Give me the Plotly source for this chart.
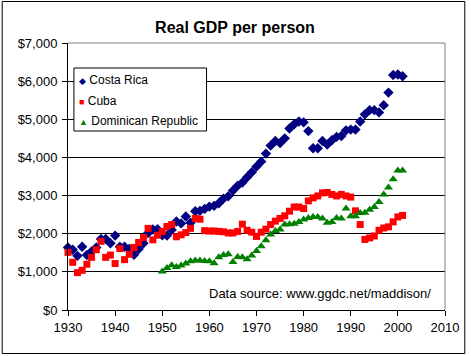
import plotly.graph_objects as go

years_cr = list(range(1930, 2002))
costa_rica = [1640, 1580, 1420, 1660, 1440, 1535, 1640, 1860, 1860, 1750,
              1950, 1660, 1660, 1600, 1450, 1600, 1750, 2020, 2110, 2120,
              1960, 1950, 2100, 2320, 2270, 2450, 2290, 2590, 2600, 2650,
              2710, 2730, 2800, 2920, 2980, 3130, 3260, 3340, 3480, 3610,
              3760, 3890, 4100, 4310, 4430, 4380, 4500, 4760, 4870, 4940,
              4920, 4690, 4240, 4240, 4430, 4340, 4450, 4540, 4560, 4710,
              4730, 4730, 4940, 5130, 5240, 5240, 5180, 5370, 5700, 6160,
              6175, 6130]

years_cu = list(range(1930, 2002))
cuba = [1510, 1250, 980, 1040, 1200, 1380, 1580, 1800, 1380, 1440,
        1220, 1610, 1320, 1460, 1640, 1770, 1900, 2140, 1840, 1960,
        2060, 2190, 2240, 1920, 1970, 2030, 2140, 2400, 2380, 2080,
        2070, 2070, 2060, 2050, 2020, 2020, 2060, 2250, 2090, 2040,
        1930, 2040, 2120, 2240, 2330, 2400, 2470, 2590, 2700, 2700,
        2660, 2860, 2940, 2990, 3070, 3080, 3030, 2990, 3030, 2990,
        2960, 2600, 2240, 1850, 1890, 1940, 2090, 2150, 2180, 2310,
        2440, 2480]

years_dr = list(range(1950, 2002))
dominican = [1010, 1100, 1170, 1130, 1165, 1220, 1280, 1300, 1300, 1285,
             1280, 1225, 1385, 1440, 1460, 1260, 1390, 1380, 1330, 1430,
             1550, 1670, 1830, 1980, 2070, 2110, 2240, 2250, 2260, 2310,
             2370, 2410, 2440, 2440, 2400, 2290, 2310, 2410, 2400, 2660,
             2460, 2460, 2540, 2550, 2630, 2700, 2830, 3030, 3210, 3430,
             3660, 3660]

x_ticks = [1930, 1940, 1950, 1960, 1970, 1980, 1990, 2000, 2010]
y_ticks = [0, 1000, 2000, 3000, 4000, 5000, 6000, 7000]

FONT = "Arial, 'Liberation Sans', sans-serif"

fig = go.Figure()
fig.add_trace(go.Scatter(x=years_cr, y=costa_rica, mode="markers", name="Costa Rica",
                         marker=dict(symbol="diamond", size=8, color="#000080"),
                         cliponaxis=False))
fig.add_trace(go.Scatter(x=years_cu, y=cuba, mode="markers", name="Cuba",
                         marker=dict(symbol="square", size=7, color="#FF0000"),
                         cliponaxis=False))
fig.add_trace(go.Scatter(x=years_dr, y=dominican, mode="markers", name="Dominican Republic",
                         marker=dict(symbol="triangle-up", size=8, color="#008000"),
                         cliponaxis=False))

# plot area: x 68..449, y 43..310 px
PW, PH = 381.0, 267.0
def px(xp):
    return (xp - 68) / PW
def py(yp):
    return (310 - yp) / PH

shapes = [
    # outer chart border
    dict(type="rect", xref="paper", yref="paper", x0=px(1.5), x1=px(469), y0=py(353.5), y1=py(1.5),
         line=dict(color="black", width=1), layer="below"),
    # gray plot-area border (top and right)
    dict(type="line", xref="paper", yref="paper", x0=0, x1=1, y0=1, y1=1,
         line=dict(color="#808080", width=1), layer="above"),
    dict(type="line", xref="paper", yref="paper", x0=1, x1=1, y0=0, y1=1,
         line=dict(color="#808080", width=1), layer="above"),
    # legend box
    dict(type="rect", xref="paper", yref="paper", x0=px(74), x1=px(208), y0=py(131), y1=py(68),
         line=dict(color="black", width=1), fillcolor="white", layer="above"),
]

legend_rows = [
    ("#000080", "\u25C6", "Costa Rica", 80),
    ("#FF0000", "\u25A0", "Cuba", 100.5),
    ("#008000", "\u25B2", "Dominican Republic", 121),
]
annotations = []
for color, sym, label, yy in legend_rows:
    annotations.append(dict(
        xref="paper", yref="paper", x=px(77), y=py(yy), xanchor="left", yanchor="middle",
        showarrow=False,
        text=f"<span style='color:{color};font-size:9px'>{sym}</span> {label}",
        font=dict(family=FONT, size=12, color="black")))

annotations.append(dict(
    xref="paper", yref="paper", x=px(208), y=py(293), xanchor="left", yanchor="middle",
    showarrow=False, text="Data source: www.ggdc.net/maddison/",
    font=dict(family=FONT, size=13, color="black")))

fig.update_layout(
    width=471, height=356,
    margin=dict(l=68, r=22, t=43, b=46),
    paper_bgcolor="white", plot_bgcolor="white",
    showlegend=False,
    title=dict(text="<b>Real GDP per person</b>", x=235/471, xref="container", xanchor="center",
               y=1 - 27/356, yref="container", yanchor="middle",
               font=dict(family=FONT, size=16, color="black")),
    font=dict(family=FONT, size=13, color="black"),
    shapes=shapes,
    annotations=annotations,
    xaxis=dict(range=[1930, 2010], tickvals=x_ticks, ticks="outside", ticklen=5,
               tickcolor="black", showline=True, linecolor="black", linewidth=1,
               showgrid=False, zeroline=False,
               tickfont=dict(family=FONT, size=13, color="black")),
    yaxis=dict(range=[0, 7000], tickvals=y_ticks, tickformat="$,.0f", ticks="outside", ticklen=5,
               tickcolor="black", showline=True, linecolor="black", linewidth=1,
               showgrid=True, gridcolor="black", gridwidth=1, zeroline=False,
               ticklabelstandoff=2,
               tickfont=dict(family=FONT, size=13, color="black")),
)

fig.write_html("out.html",
               config={"displayModeBar": False},
               post_script="document.body.style.margin='0';document.body.style.overflow='hidden';")
